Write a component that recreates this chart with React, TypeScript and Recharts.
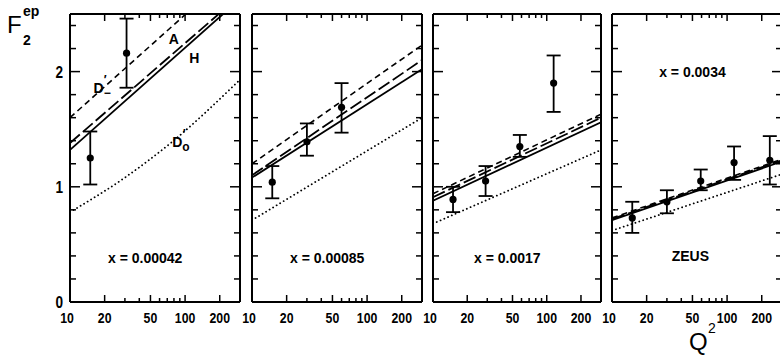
import React from 'react';
import {
  ComposedChart, Line, Scatter, ErrorBar, XAxis, YAxis, ReferenceLine, ReferenceDot,
} from 'recharts';

const FONT = "'Liberation Sans', Arial, sans-serif";

// Q^2 axis ticks
const xTicks = [10, 20, 30, 40, 50, 60, 70, 80, 90, 100, 200];
const xLabelTicks = [10, 20, 50, 100, 200];
const xMajor = [20, 50, 100, 200];
const yTicks = [0, 0.2, 0.4, 0.6, 0.8, 1, 1.2, 1.4, 1.6, 1.8, 2, 2.2, 2.4];
const yLabelTicks = [0, 1, 2];

const panelLabels = ['x = 0.00042', 'x = 0.00085', 'x = 0.0017', 'x = 0.0034'];

// curves: Q^2 nodes and F2 values
const curveQ = [10, 300];
const dMinus = [[1.6, 2.92], [1.2, 2.23], [0.94, 1.63], [0.73, 1.24]];
const aCurve = [[1.38, 2.66], [1.1, 2.1], [0.91, 1.6], [0.72, 1.23]];
const hCurve = [[1.32, 2.63], [1.08, 2.02], [0.88, 1.56], [0.71, 1.22]];
const dZeroQ = [[10, 30, 75, 300], [10, 300], [10, 300], [10, 300]];
const dZero = [[0.78, 1.08, 1.38, 1.93], [0.71, 1.6], [0.68, 1.32], [0.62, 1.11]];

// ZEUS points
const ptQ = [[15, 31], [15, 30, 60], [15, 29, 58, 115], [15, 30, 59, 115, 235]];
const ptF = [[1.25, 2.16], [1.04, 1.39, 1.69], [0.89, 1.05, 1.35, 1.9], [0.73, 0.87, 1.05, 1.21, 1.23]];
const ptLo = [[1.02, 1.86], [0.9, 1.27, 1.47], [0.78, 0.92, 1.26, 1.65], [0.6, 0.77, 0.97, 1.06, 1.02]];
const ptHi = [[1.48, 2.46], [1.18, 1.55, 1.9], [1.0, 1.18, 1.45, 2.14], [0.87, 0.97, 1.15, 1.35, 1.44]];

const plotLeft = [70, 252, 433, 612];
const plotWidth = [170, 170, 168, 170];
const TOP = 14;
const PH = 288;
const AX = 30;

const curve = (qs: number[], vals: number[]) => qs.map((q, i) => ({ q, f: vals[i] }));

function XTick(props: any) {
  const { x, y, payload } = props;
  const v = payload.value;
  const len = xMajor.includes(v) ? 7 : 4;
  const tx = v === 10 ? x - 3 : x;
  return (
    <g>
      {v !== 10 && (
        <>
          <line x1={x} x2={x} y1={y} y2={y - len} stroke="#000" strokeWidth={1.5} />
          <line x1={x} x2={x} y1={y - PH} y2={y - PH + len} stroke="#000" strokeWidth={1.5} />
        </>
      )}
      {xLabelTicks.includes(v) && (
        <text transform={`translate(${tx},${y + 21}) scale(0.82,1)`} textAnchor="middle" fontFamily={FONT}
          fontWeight="bold" fontSize={15} fill="#000">{v}</text>
      )}
    </g>
  );
}

function YTick(props: any) {
  const { x, y, payload, pw, showLabel } = props;
  const v = payload.value;
  const major = yLabelTicks.some((t) => Math.abs(t - v) < 1e-6);
  const len = major ? 10 : 6;
  return (
    <g>
      <line x1={x} x2={x + len} y1={y} y2={y} stroke="#000" strokeWidth={1.5} />
      <line x1={x + pw} x2={x + pw - len} y1={y} y2={y} stroke="#000" strokeWidth={1.5} />
      {showLabel && major && (
        <text transform={`translate(${x - 7},${y + 6}) scale(0.85,1)`} textAnchor="end" fontFamily={FONT} fontWeight="bold"
          fontSize={16} fill="#000">{v}</text>
      )}
    </g>
  );
}

function Annot(props: any) {
  const { viewBox, text, sub, size = 14 } = props;
  const cx = viewBox.x + viewBox.width / 2;
  const cy = viewBox.y + viewBox.height / 2;
  return (
    <text x={cx} y={cy + size * 0.36} textAnchor="middle" fontFamily={FONT} fontWeight="bold"
      fontSize={size} fill="#000">
      {text}
      {sub && <tspan dy={4} fontSize={12}>{sub}</tspan>}
      {sub && <tspan dx={-7} dy={-13} fontSize={12}>′</tspan>}
    </text>
  );
}

function Dot(props: any) {
  return <circle cx={props.cx} cy={props.cy} r={3.6} fill="#000" />;
}

function Panel({ i }: { i: number }) {
  const pl = plotLeft[i];
  const pw = plotWidth[i];
  const chartLeft = i === 0 ? 0 : pl - 40;
  const mLeft = pl - chartLeft - AX;
  const pts = ptQ[i].map((q, k) => ({
    q, f: ptF[i][k], err: [ptF[i][k] - ptLo[i][k], ptHi[i][k] - ptF[i][k]],
  }));
  const lineProps = { dataKey: 'f', dot: false, isAnimationActive: false, type: 'linear' as const, stroke: '#000' };
  return (
    <div style={{ position: 'absolute', left: chartLeft, top: 0 }}>
      <ComposedChart width={pl - chartLeft + pw + 20} height={356}
        margin={{ top: TOP, left: mLeft, right: 20, bottom: 356 - TOP - PH - AX }}>
        <XAxis dataKey="q" type="number" scale="log" domain={[10, 300]} allowDataOverflow
          ticks={xTicks} interval={0} height={AX} tickSize={0} tickMargin={0} tickLine={false}
          axisLine={{ stroke: '#000', strokeWidth: 2 }} tick={<XTick />} />
        <YAxis dataKey="f" type="number" domain={[0, 2.5]} allowDataOverflow ticks={yTicks}
          interval={0} width={AX} tickSize={0} tickMargin={0} tickLine={false}
          axisLine={{ stroke: '#000', strokeWidth: 2 }}
          tick={<YTick pw={pw} showLabel={i === 0} />} />
        <ReferenceLine y={2.5} stroke="#000" strokeWidth={2} />
        <ReferenceLine x={300} stroke="#000" strokeWidth={2} />
        <Line data={curve(dZeroQ[i], dZero[i])} {...lineProps} type="monotone" strokeWidth={1.8}
          strokeDasharray="0.1 4" strokeLinecap="round" />
        <Line data={curve(curveQ, dMinus[i])} {...lineProps} strokeWidth={1.6} strokeDasharray="6 4" />
        <Line data={curve(curveQ, aCurve[i])} {...lineProps} strokeWidth={1.8} strokeDasharray="13 4" />
        <Line data={curve(curveQ, hCurve[i])} {...lineProps} strokeWidth={1.8} />
        <Scatter data={pts} dataKey="f" shape={Dot} isAnimationActive={false}>
          <ErrorBar dataKey="err" direction="y" width={7} stroke="#000" strokeWidth={1.8} />
        </Scatter>
        {i < 3 && (
          <ReferenceDot x={45} y={0.38} r={0} fill="none" stroke="none"
            label={<Annot text={panelLabels[i]} size={14} />} />
        )}
        {i === 3 && (
          <ReferenceDot x={50} y={2.0} r={0} fill="none" stroke="none"
            label={<Annot text={panelLabels[i]} size={14} />} />
        )}
        {i === 3 && (
          <ReferenceDot x={48} y={0.4} r={0} fill="none" stroke="none"
            label={<Annot text="ZEUS" size={14} />} />
        )}
        {i === 0 && (
          <ReferenceDot x={80} y={2.28} r={0} fill="none" stroke="none" label={<Annot text="A" />} />
        )}
        {i === 0 && (
          <ReferenceDot x={120} y={2.12} r={0} fill="none" stroke="none" label={<Annot text="H" />} />
        )}
        {i === 0 && (
          <ReferenceDot x={19} y={1.86} r={0} fill="none" stroke="none" label={<Annot text="D" sub="−" />} />
        )}
        {i === 0 && (
          <ReferenceDot x={92} y={1.39} r={0} fill="none" stroke="none" label={<Annot text="D" sub="o" />} />
        )}
      </ComposedChart>
    </div>
  );
}

export default function App() {
  return (
    <div style={{ position: 'absolute', left: 0, top: 0, width: 780, height: 356, overflow: 'hidden', background: '#fff' }}>
      {[0, 1, 2, 3].map((i) => <Panel key={i} i={i} />)}
      <svg width={780} height={356} style={{ position: 'absolute', left: 0, top: 0, pointerEvents: 'none' }}>
        <text x={7} y={33} fontFamily={FONT} fontSize={24} fill="#000">F</text>
        <text x={23} y={45} fontFamily={FONT} fontWeight="bold" fontSize={14} fill="#000">2</text>
        <text x={23} y={16} fontFamily={FONT} fontWeight="bold" fontSize={14} fill="#000">ep</text>
        <text x={689} y={350} fontFamily={FONT} fontSize={24} fill="#000">Q</text>
        <text x={708} y={333} fontFamily={FONT} fontSize={14} fill="#000">2</text>
      </svg>
    </div>
  );
}
